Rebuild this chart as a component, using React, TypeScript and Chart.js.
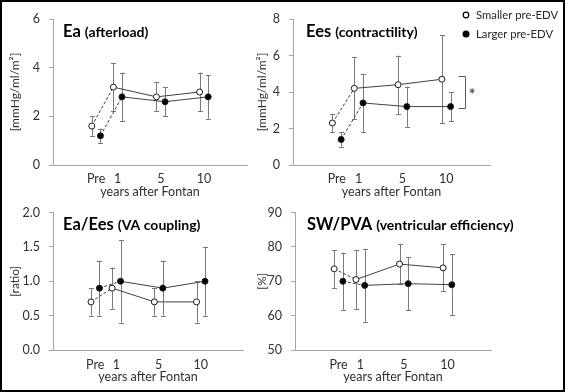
import React, { useEffect, useRef } from "react";
import { Chart, registerables } from "chart.js";

Chart.register(...registerables);

if (typeof document !== "undefined") {
  document.body.style.margin = "0";
}

// ---------- data ----------
const timePoints = ["Pre", "1", "5", "10"];
const seriesNames = ["Smaller pre-EDV", "Larger pre-EDV"];
const xAxisTitle = "years after Fontan";

const eaSmaller = [1.6, 3.2, 2.8, 3.0];
const eaSmallerSD = [0.4, 1.0, 0.6, 0.8];
const eaLarger = [1.2, 2.8, 2.6, 2.8];
const eaLargerSD = [0.3, 1.0, 0.6, 0.9];
const eaTicks = [0, 2, 4, 6];

const eesSmaller = [2.3, 4.2, 4.4, 4.7];
const eesSmallerSD = [0.5, 1.7, 1.6, 2.4];
const eesLarger = [1.4, 3.4, 3.2, 3.2];
const eesLargerSD = [0.4, 1.6, 1.1, 0.8];
const eesTicks = [0, 2, 4, 6, 8];

const couplingSmaller = [0.7, 0.9, 0.7, 0.7];
const couplingSmallerSD = [0.2, 0.3, 0.2, 0.3];
const couplingLarger = [0.9, 1.0, 0.9, 1.0];
const couplingLargerSD = [0.4, 0.6, 0.4, 0.5];
const couplingTicks = [0, 0.5, 1.0, 1.5, 2.0];

const efficiencySmaller = [73.6, 70.5, 75.0, 73.9];
const efficiencySmallerSD = [5.5, 8.6, 5.9, 6.8];
const efficiencyLarger = [70.0, 68.8, 69.3, 69.0];
const efficiencyLargerSD = [8.3, 10.6, 7.8, 8.8];
const efficiencyTicks = [50, 60, 70, 80, 90];

const significanceMark = "*";

// ---------- layout / style ----------
const FONT = "Lato, 'Noto Sans', sans-serif";
const AXIS_COLOR = "#a6a6a6";
const TEXT_COLOR = "#303030";
const LINE_COLOR = "#404040";
const ERR_COLOR = "#7a7a7a";
// position of each time point on a 0..9 axis (unequal spacing as in the figure)
const X_SLOTS = [2, 3, 5, 7];
const X_MAX = 9;
const PAIR_SHIFT = 0.2;

type Panel = {
  key: string;
  title: string;
  subtitle: string;
  yTitle: string;
  smaller: number[];
  smallerSD: number[];
  larger: number[];
  largerSD: number[];
  yTicks: number[];
  decimals: number;
  box: { left: number; top: number; width: number; height: number };
  yWidth: number;
  padTop: number;
  padRight: number;
  xHeight: number;
  yTitlePad: number;
  xTickPad: number;
  xTitlePad: number;
  titleDx: number;
  titleDy: number;
  legend?: boolean;
  bracket?: boolean;
};

const panels: Panel[] = [
  {
    key: "ea",
    title: "Ea",
    subtitle: "(afterload)",
    yTitle: "[mmHg/ml/m²]",
    smaller: eaSmaller,
    smallerSD: eaSmallerSD,
    larger: eaLarger,
    largerSD: eaLargerSD,
    yTicks: eaTicks,
    decimals: 0,
    box: { left: 0, top: 0, width: 252, height: 200 },
    yWidth: 53,
    padTop: 19,
    padRight: 2,
    xHeight: 35,
    yTitlePad: 8,
    xTickPad: 6,
    xTitlePad: 0.5,
    titleDx: 10,
    titleDy: 18,
  },
  {
    key: "ees",
    title: "Ees",
    subtitle: "(contractility)",
    yTitle: "[mmHg/ml/m²]",
    smaller: eesSmaller,
    smallerSD: eesSmallerSD,
    larger: eesLarger,
    largerSD: eesLargerSD,
    yTicks: eesTicks,
    decimals: 0,
    box: { left: 252, top: 0, width: 313, height: 200 },
    yWidth: 41,
    padTop: 19,
    padRight: 75,
    xHeight: 35,
    yTitlePad: 3,
    xTickPad: 6,
    xTitlePad: 0.5,
    titleDx: 13,
    titleDy: 18,
    legend: true,
    bracket: true,
  },
  {
    key: "coupling",
    title: "Ea/Ees",
    subtitle: "(VA coupling)",
    yTitle: "[ratio]",
    smaller: couplingSmaller,
    smallerSD: couplingSmallerSD,
    larger: couplingLarger,
    largerSD: couplingLargerSD,
    yTicks: couplingTicks,
    decimals: 1,
    box: { left: 0, top: 196, width: 252, height: 196 },
    yWidth: 53,
    padTop: 8,
    padRight: 9,
    xHeight: 42,
    yTitlePad: 8,
    xTickPad: 7,
    xTitlePad: 8,
    titleDx: 10,
    titleDy: 17.5,
  },
  {
    key: "efficiency",
    title: "SW/PVA",
    subtitle: "(ventricular efficiency)",
    yTitle: "[%]",
    smaller: efficiencySmaller,
    smallerSD: efficiencySmallerSD,
    larger: efficiencyLarger,
    largerSD: efficiencyLargerSD,
    yTicks: efficiencyTicks,
    decimals: 0,
    box: { left: 252, top: 196, width: 313, height: 196 },
    yWidth: 43,
    padTop: 8,
    padRight: 74,
    xHeight: 42,
    yTitlePad: 3,
    xTickPad: 7,
    xTitlePad: 8,
    titleDx: 12,
    titleDy: 17,
  },
];

function makeDecorPlugin(p: Panel) {
  return {
    id: "decor_" + p.key,
    beforeDatasetsDraw(chart: any) {
      const { ctx } = chart;
      const yScale = chart.scales.y;
      ctx.save();
      ctx.lineWidth = 1;
      ctx.strokeStyle = ERR_COLOR;
      chart.data.datasets.forEach((ds: any, di: number) => {
        const meta = chart.getDatasetMeta(di);
        meta.data.forEach((el: any, i: number) => {
          const v = ds.data[i].y;
          const sd = ds.sd[i];
          const x = Math.round(el.x) + 0.5;
          const yt = yScale.getPixelForValue(v + sd);
          const yb = yScale.getPixelForValue(v - sd);
          ctx.beginPath();
          ctx.moveTo(x, yt);
          ctx.lineTo(x, yb);
          ctx.moveTo(x - 2.5, Math.round(yt) + 0.5);
          ctx.lineTo(x + 2.5, Math.round(yt) + 0.5);
          ctx.moveTo(x - 2.5, Math.round(yb) + 0.5);
          ctx.lineTo(x + 2.5, Math.round(yb) + 0.5);
          ctx.stroke();
        });
      });
      ctx.restore();
    },
    afterDraw(chart: any) {
      const { ctx, chartArea } = chart;
      ctx.save();
      // panel title
      const x0 = chartArea.left + p.titleDx;
      const y0 = chartArea.top + p.titleDy;
      ctx.fillStyle = "#000";
      ctx.textAlign = "left";
      ctx.textBaseline = "alphabetic";
      ctx.font = `bold 16.5px ${FONT}`;
      ctx.fillText(p.title, x0, y0);
      const w = ctx.measureText(p.title).width;
      ctx.font = `bold 14px ${FONT}`;
      ctx.fillText(p.subtitle, x0 + w + 4, y0);

      if (p.bracket) {
        const xs = chart.scales.x;
        const ys = chart.scales.y;
        const last = timePoints.length - 1;
        const bx = Math.round(xs.getPixelForValue(X_SLOTS[last] + 0.85)) + 0.5;
        const yt = Math.round(ys.getPixelForValue(p.smaller[last]) - 3) + 0.5;
        const yb = Math.round(ys.getPixelForValue(p.larger[last]) + 1) + 0.5;
        ctx.strokeStyle = "#595959";
        ctx.lineWidth = 1;
        ctx.beginPath();
        ctx.moveTo(bx - 7, yt);
        ctx.lineTo(bx, yt);
        ctx.lineTo(bx, yb);
        ctx.lineTo(bx - 7, yb);
        ctx.stroke();
        ctx.fillStyle = "#262626";
        ctx.font = `17px ${FONT}`;
        ctx.textBaseline = "middle";
        ctx.fillText(significanceMark, bx + 3, (yt + yb) / 2 + 3);
      }

      if (p.legend) {
        const cx = chartArea.right - 24;
        const rows = [chartArea.top - 4, chartArea.top + 15];
        ctx.font = `11.3px ${FONT}`;
        ctx.textBaseline = "middle";
        rows.forEach((ry, i) => {
          ctx.beginPath();
          ctx.arc(cx, ry, i === 0 ? 2.8 : 3.5, 0, Math.PI * 2);
          if (i === 0) {
            ctx.fillStyle = "#fff";
            ctx.fill();
            ctx.lineWidth = 1.2;
            ctx.strokeStyle = "#000";
            ctx.stroke();
          } else {
            ctx.fillStyle = "#000";
            ctx.fill();
          }
          ctx.fillStyle = "#262626";
          ctx.fillText(seriesNames[i], cx + 10, ry);
        });
      }
      ctx.restore();
    },
  };
}

function PanelChart({ p }: { p: Panel }) {
  const ref = useRef<HTMLCanvasElement | null>(null);
  useEffect(() => {
    if (!ref.current) return;
    const dash = (ctx: any) => (ctx.p0DataIndex === 0 ? [3, 2] : undefined);
    const mk = (vals: number[], sd: number[], shift: number, open: boolean, label: string) => ({
      label,
      data: vals.map((v, i) => ({ x: X_SLOTS[i] + shift, y: v })),
      sd,
      borderColor: LINE_COLOR,
      borderWidth: 1,
      pointRadius: 3,
      pointBorderWidth: 1,
      pointBackgroundColor: open ? "#ffffff" : "#000000",
      pointBorderColor: "#1a1a1a",
      tension: 0,
      fill: false,
      segment: { borderDash: dash },
      clip: false,
    });
    const yMin = p.yTicks[0];
    const yMax = p.yTicks[p.yTicks.length - 1];
    const step = p.yTicks[1] - p.yTicks[0];
    const chart = new Chart(ref.current, {
      type: "line",
      data: {
        datasets: [
          mk(p.smaller, p.smallerSD, -PAIR_SHIFT, true, seriesNames[0]),
          mk(p.larger, p.largerSD, PAIR_SHIFT, false, seriesNames[1]),
        ] as any,
      },
      options: {
        responsive: false,
        animation: false,
        events: [],
        layout: { padding: { left: 0, top: p.padTop, right: p.padRight, bottom: 0 } },
        plugins: { legend: { display: false }, tooltip: { enabled: false } },
        scales: {
          x: {
            type: "linear",
            min: 0,
            max: X_MAX,
            afterBuildTicks: (s: any) => {
              s.ticks = X_SLOTS.map((v) => ({ value: v }));
            },
            afterFit: (s: any) => {
              s.height = p.xHeight;
            },
            ticks: {
              autoSkip: false,
              maxRotation: 0,
              minRotation: 0,
              padding: p.xTickPad,
              color: TEXT_COLOR,
              font: { family: FONT, size: 12.5 },
              callback: (_v: any, i: number) => timePoints[i],
            },
            grid: { display: false, drawTicks: false },
            border: { display: true, color: AXIS_COLOR, width: 1 },
            title: {
              display: true,
              text: xAxisTitle,
              color: TEXT_COLOR,
              font: { family: FONT, size: 12.5 },
              padding: { top: 0, bottom: p.xTitlePad },
            },
          },
          y: {
            type: "linear",
            min: yMin,
            max: yMax,
            afterFit: (s: any) => {
              s.width = p.yWidth;
            },
            ticks: {
              stepSize: step,
              padding: 9,
              color: TEXT_COLOR,
              font: { family: FONT, size: 12.5 },
              callback: (v: any) => Number(v).toFixed(p.decimals),
            },
            grid: {
              display: true,
              drawOnChartArea: false,
              drawTicks: true,
              tickLength: 4,
              color: AXIS_COLOR,
            },
            border: { display: true, color: AXIS_COLOR, width: 1 },
            title: {
              display: true,
              text: p.yTitle,
              color: TEXT_COLOR,
              font: { family: FONT, size: 12 },
              padding: { top: p.yTitlePad, bottom: 0 },
            },
          },
        },
      } as any,
      plugins: [makeDecorPlugin(p)],
    });
    return () => chart.destroy();
  }, [p]);
  return (
    <canvas
      ref={ref}
      width={p.box.width}
      height={p.box.height}
      style={{
        position: "absolute",
        left: p.box.left,
        top: p.box.top,
        width: p.box.width,
        height: p.box.height,
      }}
    />
  );
}

export default function App() {
  return (
    <div
      style={{
        position: "relative",
        width: 565,
        height: 392,
        overflow: "hidden",
        background: "#ffffff",
      }}
    >
      {panels.map((p) => (
        <PanelChart key={p.key} p={p} />
      ))}
      <div
        style={{
          position: "absolute",
          left: 0,
          top: 0,
          width: 565,
          height: 392,
          border: "2px solid #000",
          boxSizing: "border-box",
          pointerEvents: "none",
        }}
      />
    </div>
  );
}
